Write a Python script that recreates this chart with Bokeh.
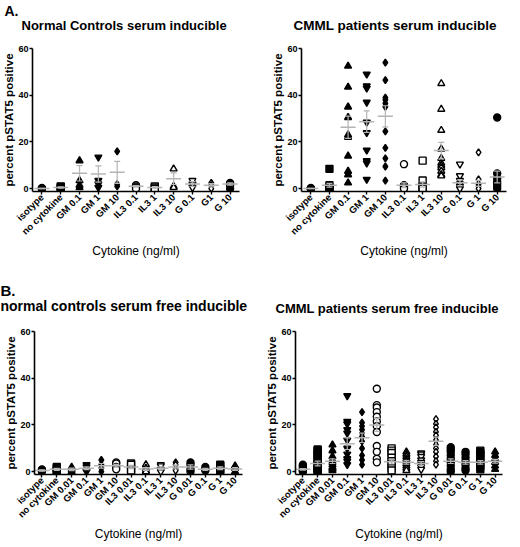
from math import pi
from bokeh.plotting import figure
from bokeh.models import ColumnDataSource, FactorRange, Title, FixedTicker
from bokeh.layouts import column, row
from bokeh.embed import file_html
from bokeh.resources import INLINE

# ---------------- data ----------------
cats_a_norm = ["isotype", "no cytokine", "GM 0.1", "GM 1", "GM 10", "IL3 0.1",
               "IL3 1", "IL3 10", "G 0.1", "G1", "G 10"]
cats_a_cmml = ["isotype", "no cytokine", "GM 0.1", "GM 1", "GM 10", "IL3 0.1",
               "IL3 1", "IL3 10", "G 0.1", "G 1", "G 10"]
cats_b = ["isotype", "no cytokine", "GM 0.01", "GM 0.1", "GM 1", "GM 10",
          "IL3 0.01", "IL3 0.1", "IL3 1", "IL3 10", "G 0.01", "G 0.1", "G 1", "G 10"]

a_norm_vals = [[0.3, 0, 0], [1, 0.5, 0], [12, 3.5, 1.5, 0.5], [13.5, 3.5, 2, 0.5],
               [16, 2, 1], [1.5, 1, 0.5, 0], [1, 0.5, 0], [8.5, 1, 0.5],
               [3.5, 2, 0.5], [2.5, 1.5, 0], [2.5, 1.5, 0]]
a_norm_mean = [0.1, 0.5, 6.6, 6.3, 7.0, 1.0, 0.5, 4.3, 2.0, 1.5, 2.0]
a_norm_sem = [0.1, 0.3, 3.3, 3.5, 4.7, 0.3, 0.3, 2.5, 1.0, 0.7, 0.5]

a_cmml_vals = [[0.3, 0, 0, 0], [8.5, 1.5, 0.5, 0, 0],
               [52.5, 43.5, 35, 30.5, 23, 22, 14, 7.5, 6, 2.5],
               [49, 44, 43, 37, 28.5, 24, 16.5, 12, 11, 4],
               [54, 46.5, 39, 38, 36.5, 35, 24.5, 17.5, 13, 9.5, 3.5],
               [10.5, 1.5, 1, 0.5, 0], [12, 3.5, 1, 0.5, 0],
               [45, 34, 25, 17, 13, 11, 10, 9, 7.5, 6, 5.5],
               [10.5, 5.5, 3.5, 2, 1, 0], [15.5, 4, 2, 1, 0],
               [30.5, 6.5, 4.5, 3, 2, 1, 0]]
a_cmml_mean = [0.1, 1.5, 26.3, 28.7, 31.0, 1.5, 1.8, 16.3, 2.5, 2.3, 5.0]
a_cmml_sem = [0.1, 0.8, 4.8, 4.6, 4.5, 1.0, 1.1, 3.5, 1.3, 1.3, 2.5]

b_norm_vals = [[1, 0.5, 0], [2, 1.5, 0.5, 0], [2, 1, 0], [3, 2, 0.5, 0],
               [5, 3, 1.5, 0], [4, 3.5, 2, 1], [3.5, 3, 1, 0.5], [3, 1.5, 0.5, 0],
               [3, 2.5, 1, 0], [4, 3, 1, 0.5], [4, 3, 1, 0], [2, 1, 0.5],
               [3, 2.5, 1, 0], [2.5, 1.5, 0]]
b_norm_mean = [0.5, 1.0, 1.0, 1.5, 2.5, 2.5, 2.0, 1.2, 1.5, 2.0, 2.0, 1.0, 1.5, 1.2]
b_norm_sem = [0.3, 0.4, 0.5, 0.6, 1.0, 0.6, 0.7, 0.6, 0.6, 0.8, 0.9, 0.4, 0.6, 0.6]

b_cmml_vals = [[3, 2.5, 2, 1.5, 1, 0.5, 0.5, 0],
               [9.5, 9, 8, 7, 6, 5, 4, 3, 2, 1.5, 1, 0.5, 0],
               [11.5, 9, 6.5, 5, 4, 3, 2, 1.5, 1, 0.5],
               [32.5, 21.5, 20.5, 18, 16.5, 13.5, 10, 7.5, 5.5, 4.5, 3],
               [25.5, 21, 19.5, 18, 16.5, 15, 13, 10, 7, 5, 3],
               [35.5, 28.5, 27.5, 25.5, 23.5, 21.5, 19.5, 17, 11, 8.5, 5.5, 4],
               [10, 9, 8, 6, 4.5, 3, 1.5, 0.5],
               [8.5, 7.5, 6.5, 5.5, 4.5, 3.5, 2.5, 1.5, 0.5],
               [8, 7.5, 6.5, 5, 4, 3, 2, 1],
               [22.5, 20.5, 19, 17, 15.5, 13.5, 11.5, 10, 8.5, 6.5, 4.5, 3],
               [10.5, 9.5, 8.5, 7, 5.5, 4, 2.5, 1, 0],
               [8.5, 7.5, 6, 4.5, 3, 1.5, 0.5],
               [9, 8, 7, 5.5, 4, 2.5, 1],
               [8.5, 7, 5.5, 4, 2.5, 1]]
b_cmml_mean = [1.0, 3.5, 4.5, 12.0, 14.5, 20.0, 4.3, 4.0, 3.5, 13.0, 4.5, 4.0, 4.0, 4.5]
b_cmml_sem = [0.3, 1.0, 1.0, 2.5, 2.0, 2.8, 1.0, 0.8, 0.8, 1.8, 1.0, 0.8, 0.8, 0.8]

# marker symbol and fill per column
a_markers = ["circle", "square", "triangle", "inverted_triangle", "diamond", "circle",
             "square", "triangle", "inverted_triangle", "diamond", "circle"]
a_filled = [True, True, True, True, True, False, False, False, False, False, True]
b_markers = ["circle", "square", "triangle", "inverted_triangle", "diamond", "circle",
             "square", "triangle", "inverted_triangle", "diamond", "circle", "circle",
             "square", "triangle"]
b_filled = [True, True, True, True, True, False, False, False, False, False, True, True,
            True, True]

titles = ["Normal Controls serum inducible", "CMML patients serum inducible",
          "normal controls serum free inducible", "CMML patients serum free inducible"]
letters = ["A.", "B."]

FONT = "Liberation Sans"
GREY = "#b4b4b4"


def panel(cats, vals, means, sems, markers, filled, title, letter, fw, fh,
          bl, br, bt, bb, spacer, title_size, title_offset,
          letter_size, letter_offset, letter_standoff):
    p = figure(x_range=FactorRange(factors=cats), y_range=(-1.2, 60),
               frame_width=fw, frame_height=fh, output_backend="svg",
               toolbar_location=None, title=None,
               min_border_left=bl, min_border_right=br,
               min_border_top=bt, min_border_bottom=bb)
    # stacked outward from the frame: spacer, panel title, panel letter
    p.add_layout(Title(text=" ", text_font_size="1px", standoff=spacer), "above")
    p.add_layout(Title(text=title, align="left", offset=title_offset, text_font=FONT,
                       text_font_size=title_size, text_font_style="bold",
                       text_color="black", standoff=4), "above")
    p.add_layout(Title(text=letter, align="left", text_font=FONT,
                       text_font_size=letter_size, text_font_style="bold",
                       text_color="black", offset=letter_offset,
                       standoff=letter_standoff), "above")
    xs, ys, ms, fc = [], [], [], []
    for c, v, m, f in zip(cats, vals, markers, filled):
        for y in v:
            xs.append(c)
            ys.append(y)
            ms.append(m)
            fc.append("black" if f else "white")
    src = ColumnDataSource(dict(x=xs, y=ys, m=ms, fc=fc))
    p.scatter("x", "y", marker="m", source=src, size=7, fill_color="fc",
              line_color="black", line_width=1.4)
    lo = [m - s for m, s in zip(means, sems)]
    hi = [m + s for m, s in zip(means, sems)]
    p.segment(x0=cats, y0=lo, x1=cats, y1=hi, line_color=GREY, line_width=1.2)
    p.scatter(x=cats, y=means, marker="dash", size=15, line_color=GREY, line_width=1.5)
    p.scatter(x=cats, y=lo, marker="dash", size=6, line_color=GREY, line_width=1.2)
    p.scatter(x=cats, y=hi, marker="dash", size=6, line_color=GREY, line_width=1.2)

    p.xgrid.visible = False
    p.ygrid.visible = False
    p.outline_line_color = None
    p.yaxis.ticker = FixedTicker(ticks=[0, 20, 40, 60])
    for ax in (p.xaxis[0], p.yaxis[0]):
        ax.axis_line_width = 1.6
        ax.axis_line_color = "black"
        ax.major_tick_line_width = 1.4
        ax.major_tick_in = 0
        ax.major_tick_out = 3
        ax.minor_tick_out = 0
        ax.minor_tick_in = 0
        ax.major_label_text_font = FONT
        ax.major_label_text_font_style = "bold"
        ax.major_label_text_color = "black"
        ax.axis_label_text_font = FONT
        ax.axis_label_text_color = "black"
    p.yaxis.major_label_text_font_size = "9px"
    p.yaxis.major_label_standoff = 1
    p.yaxis.axis_label = "percent pSTAT5 positive"
    p.yaxis.axis_label_text_font_size = "11.5px"
    p.yaxis.axis_label_text_font_style = "bold"
    p.yaxis.axis_label_standoff = 0
    p.xaxis.major_label_orientation = pi / 4
    p.xaxis.major_label_text_font_size = "9.5px"
    p.xaxis.major_label_standoff = 1
    p.xaxis.axis_label = "Cytokine (ng/ml)"
    p.xaxis.axis_label_text_font_size = "12px"
    p.xaxis.axis_label_text_font_style = "normal"
    p.xaxis.axis_label_standoff = 0
    return p


pA1 = panel(cats_a_norm, a_norm_vals, a_norm_mean, a_norm_sem, a_markers, a_filled,
            titles[0], letters[0], 207, 143, 28, 17, 48, 66, 11,
            "13px", -11, "14px", -28, -11)
pA2 = panel(cats_a_cmml, a_cmml_vals, a_cmml_mean, a_cmml_sem, a_markers, a_filled,
            titles[1], " ", 205, 143, 45, 2, 48, 66, 11,
            "13.5px", -8, "14px", 0, -11)
pB1 = panel(cats_b, b_norm_vals, b_norm_mean, b_norm_sem, b_markers, b_filled,
            titles[2], letters[1], 208, 143, 34, 10, 71, 62, 13,
            "14px", -34, "15px", -34, -10)
pB2 = panel(cats_b, b_cmml_vals, b_cmml_mean, b_cmml_sem, b_markers, b_filled,
            titles[3], " ", 207, 143, 43, 2, 69, 64, 11,
            "13px", -20, "15px", 0, -10)

layout = column(row(pA1, pA2), row(pB1, pB2))
open("out.html", "w").write(file_html(layout, INLINE))
